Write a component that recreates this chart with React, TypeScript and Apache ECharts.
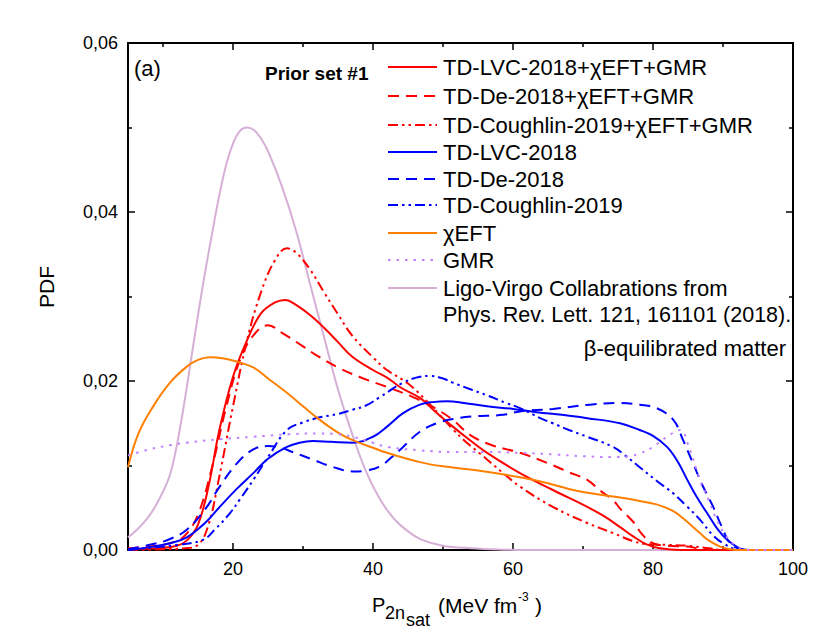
import React, { useEffect, useRef } from "react";
import * as echarts from "echarts";

const FONT = '"Liberation Sans", Arial, Helvetica, sans-serif';

// ---- data (x: P_2nsat in MeV fm^-3, y: PDF) ----
const ligoVirgo: number[][] = [
  [5, 0.0015], [6, 0.0022], [7, 0.003], [8, 0.004], [9, 0.0053], [10, 0.0069], [11, 0.0089],
  [12, 0.0125], [13, 0.0172], [14, 0.0225], [15, 0.0278], [16, 0.0328], [17, 0.0374],
  [18, 0.0418], [19, 0.0455], [20, 0.0481], [21, 0.0496], [22, 0.05], [23, 0.0497], [24, 0.0487],
  [25, 0.0472], [27, 0.043], [29, 0.0378], [31, 0.0315], [33, 0.0252], [35, 0.019], [37, 0.0138],
  [39, 0.0093], [41, 0.006], [43, 0.0037], [45, 0.0022], [47, 0.0012], [50, 0.0005], [54, 0.0002],
  [58, 0.00005], [62, 0], [100, 0],
];
const tdLvcComb: number[][] = [
  [5, 0.0001], [9, 0.0002], [12, 0.0005], [13.5, 0.0012], [15, 0.003], [16.5, 0.0075], [18, 0.014],
  [20, 0.0205], [22, 0.0248], [24, 0.028], [26, 0.0293], [27.5, 0.0296], [29, 0.029], [31, 0.0278],
  [33, 0.0263], [35, 0.0246], [37, 0.0229], [40, 0.0213], [42, 0.0204], [44, 0.0192], [46.7, 0.018],
  [49, 0.0163], [51.4, 0.0146], [54, 0.0129], [56.3, 0.0115], [61, 0.0091], [65.7, 0.0071],
  [70.6, 0.0051], [73, 0.004], [75.3, 0.0027], [77, 0.0017], [79, 0.0007], [81, 0.0002], [84, 0], [100, 0],
];
const tdDeComb: number[][] = [
  [5, 0.0002], [8, 0.0004], [11, 0.0008], [13, 0.0016], [15, 0.0042], [17, 0.0098], [19, 0.0168],
  [21, 0.0225], [23, 0.0255], [25, 0.0266], [27, 0.0257], [30, 0.0241], [32, 0.023], [35, 0.0216],
  [38, 0.0205], [42, 0.0193], [45.7, 0.0181], [48.6, 0.0169], [51.4, 0.0154], [53.9, 0.0136],
  [57, 0.0124], [61, 0.0115], [64.9, 0.0103], [68, 0.0092], [70.6, 0.0083], [72.5, 0.007],
  [74.3, 0.0059], [75.3, 0.0049], [77.1, 0.0034], [78.5, 0.0018], [80, 0.0008], [82, 0.0005],
  [85, 0.0004], [87, 0.0001], [90, 0], [100, 0],
];
const tdCoughComb: number[][] = [
  [5, 0], [10, 0.0001], [13, 0.0002], [15, 0.0006], [16.5, 0.003], [18, 0.0085], [20, 0.017],
  [22, 0.0248], [24, 0.0305], [26, 0.0343], [27.7, 0.0357], [29, 0.0352], [31, 0.0332], [33, 0.0305],
  [35, 0.0279], [37, 0.0254], [40, 0.0228], [42, 0.0213], [45, 0.0197], [47.7, 0.0176], [49.5, 0.016],
  [51.4, 0.0143], [53, 0.013], [55.3, 0.0114], [58.6, 0.0091], [61, 0.0075], [65.7, 0.0051],
  [70.6, 0.0032], [74.3, 0.002], [77, 0.0011], [79, 0.0007], [82, 0.0006], [85, 0.0005],
  [88, 0.0002], [90, 0], [100, 0],
];
const tdLvc: number[][] = [
  [5, 0], [8.6, 0.0004], [11, 0.0008], [13.4, 0.0015], [16, 0.0032], [18.1, 0.0051], [20.5, 0.0072],
  [22.9, 0.0091], [25, 0.0108], [27.7, 0.0122], [29.5, 0.0127], [31.4, 0.0129], [34, 0.0128],
  [37.1, 0.0127], [40, 0.0134], [42, 0.0146], [44.3, 0.0162], [46.7, 0.0172], [48.5, 0.0175],
  [50.6, 0.0176], [53, 0.0174], [56.3, 0.017], [60, 0.0167], [63.4, 0.0163], [67, 0.016],
  [70.6, 0.0156], [75.3, 0.015], [78.1, 0.0142], [80, 0.0135], [82, 0.0122], [83.5, 0.0105],
  [84.9, 0.0083], [86.3, 0.0062], [87.7, 0.0044], [89.2, 0.0025], [90.6, 0.0012], [92.4, 0.0002],
  [94, 0], [100, 0],
];
const tdDe: number[][] = [
  [5, 0.0001], [8.6, 0.0007], [11, 0.0013], [13.4, 0.0024], [16, 0.0048], [18.1, 0.0075],
  [20.5, 0.0102], [22.9, 0.0119], [25, 0.0123], [26.5, 0.0122], [28.5, 0.0116], [31.4, 0.0107],
  [34, 0.0099], [37.1, 0.0093], [39, 0.0094], [41, 0.0099], [42.7, 0.011], [44.3, 0.0122],
  [46.7, 0.014], [49.1, 0.015], [51.4, 0.0155], [54, 0.0158], [58.6, 0.016], [61, 0.0164],
  [65.7, 0.0167], [71, 0.0172], [75.3, 0.0174], [78.1, 0.0172], [80.5, 0.0168], [82.9, 0.0154],
  [84.3, 0.013], [85.7, 0.0103], [87.1, 0.0076], [88.6, 0.0051], [89.8, 0.0028], [91, 0.0008],
  [92.5, 0.0001], [94, 0], [100, 0],
];
const tdCough: number[][] = [
  [5, 0], [8.6, 0.0003], [12, 0.0006], [15.7, 0.0012], [17.5, 0.0025], [19.6, 0.0044], [21, 0.006],
  [22.9, 0.0083], [25, 0.011], [27.7, 0.0142], [30, 0.0151], [32.4, 0.0157], [35, 0.0161],
  [37.1, 0.0166], [39, 0.0171], [41, 0.0181], [44.3, 0.0198], [46.7, 0.0205], [48.1, 0.0206],
  [50, 0.0203], [51.4, 0.0198], [54, 0.019], [56.3, 0.0183], [59, 0.0174], [61, 0.0168],
  [63.9, 0.0156], [65.7, 0.015], [68, 0.0142], [70.6, 0.0134], [74.3, 0.0122], [76, 0.0112],
  [78.1, 0.0098], [80.5, 0.0082], [82.9, 0.0067], [84.8, 0.0052], [86.7, 0.0036], [88.5, 0.0018],
  [90, 0.0008], [92, 0.0001], [94, 0], [100, 0],
];
const chiEFT: number[][] = [
  [5, 0.0098], [6.5, 0.0138], [8.6, 0.017], [11, 0.0198], [13.4, 0.0217], [15, 0.0225],
  [16.7, 0.0228], [18.5, 0.0227], [20.5, 0.0223], [22.9, 0.0216], [25, 0.0203], [27.7, 0.0186],
  [30, 0.017], [32.4, 0.0154], [35, 0.0139], [37.1, 0.013], [40, 0.0121], [42, 0.0115],
  [46.7, 0.0104], [50, 0.0099], [55, 0.0094], [61, 0.0086], [65, 0.0079], [68.6, 0.0071],
  [72, 0.0066], [75.3, 0.0062], [78.1, 0.0058], [80.5, 0.0054], [82.9, 0.0046], [84.5, 0.0036],
  [86.7, 0.002], [88, 0.0011], [89.6, 0.0004], [91, 0.0001], [93, 0], [100, 0],
];
const gmr: number[][] = [
  [5, 0.0112], [8, 0.0119], [11, 0.0124], [13.4, 0.0127], [18, 0.0131], [22.9, 0.0134],
  [28, 0.0137], [32.4, 0.0138], [35, 0.0137], [37.1, 0.0134], [40, 0.0127], [42, 0.0122],
  [46.7, 0.0118], [51.4, 0.0116], [56, 0.0116], [61, 0.0115], [66, 0.0113], [70, 0.0111],
  [74.3, 0.011], [76.5, 0.0111], [78.1, 0.0114], [80, 0.0122], [82, 0.0134], [83.9, 0.0142],
  [85, 0.0125], [86.7, 0.0083], [88, 0.0058], [89.1, 0.0036], [90.3, 0.0018], [91.4, 0.0008],
  [93, 0.0001], [95, 0], [100, 0],
];

const seriesNames = [
  "TD-LVC-2018+χEFT+GMR",
  "TD-De-2018+χEFT+GMR",
  "TD-Coughlin-2019+χEFT+GMR",
  "TD-LVC-2018",
  "TD-De-2018",
  "TD-Coughlin-2019",
  "χEFT",
  "GMR",
  "Ligo-Virgo Collabrations from",
];
const ligoSecondLine = "Phys. Rev. Lett. 121, 161101 (2018).";

const xMajorTicks = [20, 40, 60, 80, 100];
const xMinorTicks = [10, 30, 50, 70, 90];

const RED = "#ff0000";
const BLUE = "#0000ff";
const ORANGE = "#ff8000";
const GMR_C = "#c080ff";
const LIGO_C = "#d6afd6";

const DASH = [11, 7];
const DASHDOT = [10, 4, 2.5, 4, 2.5, 4];
const DOT = [2.5, 6];

const seriesData = [tdLvcComb, tdDeComb, tdCoughComb, tdLvc, tdDe, tdCough, chiEFT, gmr, ligoVirgo];
const seriesColors = [RED, RED, RED, BLUE, BLUE, BLUE, ORANGE, GMR_C, LIGO_C];
const seriesDash: (number[] | "solid")[] = ["solid", DASH, DASHDOT, "solid", DASH, DASHDOT, "solid", DOT, "solid"];
const legendRowsY = [67, 96, 125, 152, 179, 205, 233, 260, 288];

export default function App() {
  const ref = useRef<HTMLDivElement>(null);
  useEffect(() => {
    document.body.style.margin = "0";
    const chart = echarts.init(ref.current!, null, { renderer: "svg" });

    const axisLineStyle = { color: "#000", width: 2 };
    const xAxisBase = {
      type: "value" as const,
      min: 5,
      max: 100,
      splitLine: { show: false },
    };

    const graphics: any[] = [];
    seriesNames.forEach((name, i) => {
      const y = legendRowsY[i];
      const dash = seriesDash[i];
      graphics.push({
        type: "line",
        shape: { x1: 388, y1: y, x2: 437, y2: y },
        style: {
          stroke: seriesColors[i],
          lineWidth: 2,
          lineDash: dash === "solid" ? null : dash,
        },
      });
      graphics.push({
        type: "text",
        x: 443,
        y,
        style: { text: name, font: `22px ${FONT}`, fill: "#000", verticalAlign: "middle", align: "left" },
      });
    });
    graphics.push({
      type: "text",
      x: 443,
      y: 315,
      style: { text: ligoSecondLine, font: `21.5px ${FONT}`, fill: "#000", verticalAlign: "middle", align: "left" },
    });
    graphics.push({
      type: "text",
      x: 786,
      y: 348,
      style: { text: "β-equilibrated matter", font: `22px ${FONT}`, fill: "#000", verticalAlign: "middle", align: "right" },
    });
    graphics.push({
      type: "text",
      x: 134,
      y: 68,
      style: { text: "(a)", font: `22px ${FONT}`, fill: "#000", verticalAlign: "middle", align: "left" },
    });
    graphics.push({
      type: "text",
      x: 265,
      y: 73,
      style: { text: "Prior set #1", font: `bold 19px ${FONT}`, fill: "#000", verticalAlign: "middle", align: "left" },
    });
    graphics.push({
      type: "text",
      x: 46,
      y: 287,
      rotation: Math.PI / 2,
      style: { text: "PDF", font: `21px ${FONT}`, fill: "#000", verticalAlign: "middle", align: "center" },
    });
    // x-axis title pieces
    const titleParts = [
      { t: "P", x: 372, y: 605, s: 20 },
      { t: "2n", x: 385, y: 613, s: 18 },
      { t: "sat", x: 406, y: 620, s: 18 },
      { t: "(MeV fm", x: 438, y: 605, s: 21 },
      { t: "-3", x: 518, y: 597, s: 12 },
      { t: ")", x: 535, y: 605, s: 21 },
    ];
    titleParts.forEach((p) =>
      graphics.push({
        type: "text",
        x: p.x,
        y: p.y,
        style: { text: p.t, font: `${p.s}px ${FONT}`, fill: "#000", verticalAlign: "middle", align: "left" },
      })
    );

    chart.setOption({
      animation: false,
      backgroundColor: "#fff",
      grid: { left: 128, right: 37, top: 43, bottom: 86, containLabel: false },
      xAxis: [
        {
          ...xAxisBase,
          position: "bottom",
          axisLine: { show: true, lineStyle: axisLineStyle },
          axisTick: { show: true, inside: true, length: 7, customValues: xMajorTicks, lineStyle: { color: "#000", width: 1.5 } },
          axisLabel: {
            show: true,
            customValues: xMajorTicks,
            color: "#000",
            fontSize: 18,
            fontFamily: FONT,
            margin: 10,
          },
        },
        {
          ...xAxisBase,
          position: "bottom",
          axisLine: { show: false },
          axisTick: { show: true, inside: true, length: 4, customValues: xMinorTicks, lineStyle: { color: "#000", width: 1.5 } },
          axisLabel: { show: false },
        },
        {
          ...xAxisBase,
          position: "top",
          axisLine: { show: true, lineStyle: axisLineStyle },
          axisTick: { show: true, inside: true, length: 7, customValues: xMajorTicks, lineStyle: { color: "#000", width: 1.5 } },
          axisLabel: { show: false },
        },
        {
          ...xAxisBase,
          position: "top",
          axisLine: { show: false },
          axisTick: { show: true, inside: true, length: 4, customValues: xMinorTicks, lineStyle: { color: "#000", width: 1.5 } },
          axisLabel: { show: false },
        },
      ],
      yAxis: [
        {
          type: "value",
          min: 0,
          max: 0.06,
          interval: 0.02,
          position: "left",
          splitLine: { show: false },
          axisLine: { show: true, lineStyle: axisLineStyle },
          axisTick: { show: true, inside: true, length: 7, lineStyle: { color: "#000", width: 1.5 } },
          minorTick: { show: true, splitNumber: 2, length: 4, lineStyle: { color: "#000", width: 1.5 } },
          axisLabel: {
            color: "#000",
            fontSize: 18,
            fontFamily: FONT,
            margin: 10,
            formatter: (v: number) => v.toFixed(2).replace(".", ","),
          },
        },
        {
          type: "value",
          min: 0,
          max: 0.06,
          interval: 0.02,
          position: "right",
          splitLine: { show: false },
          axisLine: { show: true, lineStyle: axisLineStyle },
          axisTick: { show: true, inside: true, length: 7, lineStyle: { color: "#000", width: 1.5 } },
          minorTick: { show: true, splitNumber: 2, length: 4, lineStyle: { color: "#000", width: 1.5 } },
          axisLabel: { show: false },
        },
      ],
      series: seriesNames.map((name, i) => ({
        name,
        type: "line",
        xAxisIndex: 0,
        yAxisIndex: 0,
        data: seriesData[i],
        showSymbol: false,
        symbol: "none",
        smooth: 0.4,
        clip: true,
        z: i === 8 ? 1 : 2,
        lineStyle: { color: seriesColors[i], width: 2, type: seriesDash[i] },
      })),
      graphic: graphics,
    });
    return () => chart.dispose();
  }, []);
  return <div ref={ref} style={{ position: "fixed", left: 0, top: 0, width: 830, height: 636 }} />;
}
